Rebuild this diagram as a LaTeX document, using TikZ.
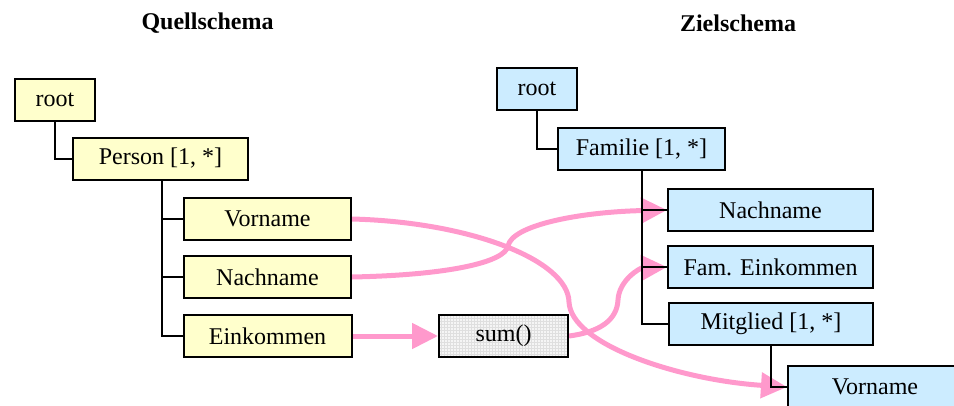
\documentclass[tikz,border=0pt]{standalone}
\usepackage{fontspec}
\setmainfont{Liberation Serif}
\usetikzlibrary{arrows.meta,patterns,backgrounds}
\definecolor{srcfill}{HTML}{FFFFCC}
\definecolor{dstfill}{HTML}{CCECFF}
\definecolor{mappink}{HTML}{FF99CC}
\tikzset{
  box/.style={draw=black, line width=2pt, rectangle, minimum height=42pt, inner sep=0pt,
              font=\fontsize{24}{28}\selectfont},
  srcbox/.style={box, fill=srcfill},
  dstbox/.style={box, fill=dstfill},
  funcbox/.style={box, preaction={fill=gray!8}, pattern=grid, pattern color=gray!25},
  title/.style={font=\bfseries\fontsize{24}{28}\selectfont, inner sep=0pt},
  tree/.style={draw=black, line width=2pt},
  mapping/.style={draw=mappink, line width=5pt, -{Triangle[length=26pt,width=25pt]}},
}
\begin{document}
\begin{tikzpicture}[x=1pt,y=-1pt]
\clip (0,0) rectangle (954,405);
\useasboundingbox (0,0) rectangle (954,405);
% titles
\node[title] (tq) at (207.5,23) {Quellschema};
\node[title] (tz) at (738,23) {Zielschema};
% source schema
\node[srcbox, minimum width=80pt] (root1) at (55,99.5) {root};
\node[srcbox, minimum width=175pt] (person) at (160.5,158.5) {Person [1, *]};
\node[srcbox, minimum width=167pt] (vl) at (267.5,219) {Vorname};
\node[srcbox, minimum width=167pt] (nl) at (267.5,277) {Nachname};
\node[srcbox, minimum width=168pt] (el) at (267.5,336) {Einkommen};
% function
\node[funcbox, minimum width=129pt] (sum) at (503.5,336) {sum()};
% target schema
\node[dstbox, minimum width=80pt] (root2) at (537,89) {root};
\node[dstbox, minimum width=167pt] (fam) at (641.5,149) {Familie [1, *]};
\node[dstbox, minimum width=205pt] (nr) at (770.5,210) {Nachname};
\node[dstbox, minimum width=205pt] (fr) at (770.5,267) {Fam. Einkommen};
\node[dstbox, minimum width=204pt] (mr) at (771,324) {Mitglied [1, *]};
\node[dstbox, minimum width=174pt] (vr) at (875,387) {Vorname};
\begin{pgfonlayer}{background}
% mappings
\draw[mapping] (vl.east) .. controls (470,222) and (568,260) .. (569,302)
               .. controls (571,345) and (680,380) .. (vr.west);
\draw[mapping] (nl.east) .. controls (450,275) and (505,262) .. (508,246)
               .. controls (512,225) and (580,212) .. (nr.west);
\draw[mapping] (el.east) -- (sum.west);
\draw[mapping] (sum.east) .. controls (600,332) and (617,320) .. (618,300)
               .. controls (619,280) and (640,268) .. (fr.west);
% tree connectors
\draw[tree] (root1.south) |- (person.west);
\draw[tree] ([xshift=1.5pt]person.south) |- (vl.west);
\draw[tree] ([xshift=1.5pt]person.south) |- (nl.west);
\draw[tree] ([xshift=1.5pt]person.south) |- (el.west);
\draw[tree] (root2.south) |- (fam.west);
\draw[tree] (fam.south) |- (nr.west);
\draw[tree] (fam.south) |- (fr.west);
\draw[tree] (fam.south) |- (mr.west);
\draw[tree] (mr.south) |- (vr.west);
\end{pgfonlayer}
\end{tikzpicture}
\end{document}
